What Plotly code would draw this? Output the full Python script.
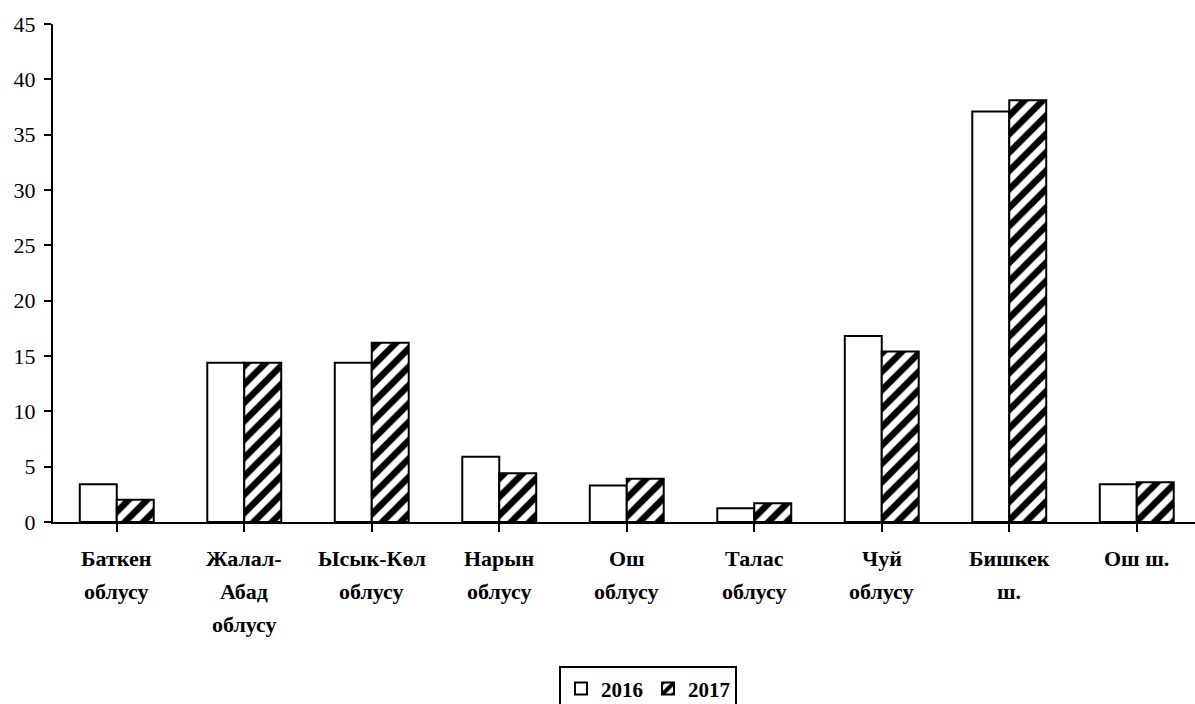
import plotly.graph_objects as go

categories = ["Баткен облусу", "Жалал-Абад облусу", "Ысык-Көл облусу", "Нарын облусу",
              "Ош облусу", "Талас облусу", "Чуй облусу", "Бишкек ш.", "Ош ш."]
label_lines = [["Баткен", "облусу"], ["Жалал-", "Абад", "облусу"], ["Ысык-Көл", "облусу"],
               ["Нарын", "облусу"], ["Ош", "облусу"], ["Талас", "облусу"],
               ["Чуй", "облусу"], ["Бишкек", "ш."], ["Ош ш."]]
values_2016 = [3.4, 14.4, 14.4, 5.9, 3.3, 1.25, 16.8, 37.1, 3.4]
values_2017 = [2.0, 14.4, 16.2, 4.4, 3.9, 1.7, 15.4, 38.1, 3.6]
y_ticks = [0, 5, 10, 15, 20, 25, 30, 35, 40, 45]

FONT = "Times New Roman, Liberation Serif, serif"
xs = list(range(len(categories)))

fig = go.Figure()
fig.add_trace(go.Bar(
    x=xs, y=values_2016, name="2016",
    marker=dict(color="white", line=dict(color="black", width=2)),
))
fig.add_trace(go.Bar(
    x=xs, y=values_2017, name="2017",
    marker=dict(color="white", line=dict(color="black", width=2),
                pattern=dict(shape="/", fgcolor="black", bgcolor="white", fgopacity=1,
                             size=13, solidity=0.5, fillmode="overlay")),
))

annotations = []
for i, lines in enumerate(label_lines):
    for j, line in enumerate(lines):
        annotations.append(dict(
            x=xs[i], xref="x", y=0, yref="paper", yanchor="middle",
            yshift=-36 - 33 * j, text=line, showarrow=False,
            font=dict(family=FONT, size=22, color="black", weight="bold"),
        ))

fig.update_layout(
    width=1195, height=704,
    font=dict(family=FONT, color="black"),
    margin=dict(l=53, r=0, t=24, b=182, autoexpand=False),
    paper_bgcolor="white", plot_bgcolor="white",
    barmode="group", bargap=0.42, bargroupgap=0,
    showlegend=True,
    legend=dict(
        orientation="h", x=0.521, xanchor="center", y=-0.29, yanchor="top",
        bordercolor="black", borderwidth=2, bgcolor="white",
        font=dict(family=FONT, size=21, color="black", weight="bold"),
        itemwidth=30, traceorder="normal",
    ),
    annotations=annotations,
    xaxis=dict(
        range=[-0.5, -0.5 + 1142 / 127.5],
        tickmode="array", tickvals=xs, ticktext=[""] * len(xs),
        tickson="boundaries", ticks="outside", ticklen=8, tickwidth=2, tickcolor="black",
        showline=True, linecolor="black", linewidth=2,
        showgrid=False, zeroline=False, fixedrange=True,
    ),
    yaxis=dict(
        range=[0, 45], tickmode="array", tickvals=y_ticks,
        ticks="outside", ticklen=7, tickwidth=2, tickcolor="black",
        showline=True, linecolor="black", linewidth=2,
        showgrid=False, zeroline=False,
        tickfont=dict(family=FONT, size=22, color="black"),
        ticklabelstandoff=4,
    ),
)

fig.write_html("out.html", config={"displayModeBar": False},
               post_script="document.body.style.margin='0';document.body.style.overflow='hidden';")
